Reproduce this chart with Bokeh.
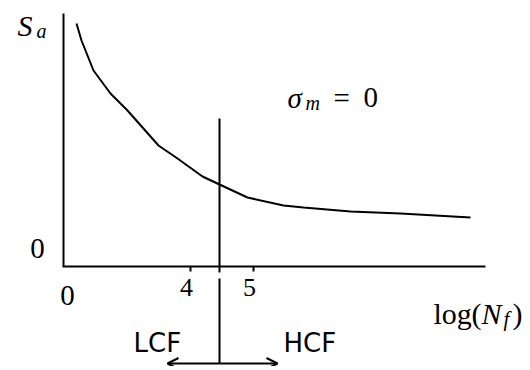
from bokeh.plotting import figure
from bokeh.models import Range1d, Label, Arrow, OpenHead, ColumnDataSource
from bokeh.core.properties import value
from bokeh.embed import file_html
from bokeh.resources import INLINE

# Schematic S-N curve (drawing units: x ~ log(N_f), y ~ S_a)
curve_x = [13, 18, 30, 47, 64, 95, 114, 139, 156, 184, 220, 240, 287, 337, 407]
curve_y = [243, 226, 196, 173, 156, 121, 108, 90, 82, 69, 61, 59, 55, 53, 49]
tick_pos = [127, 190]
tick_labels = ["4", "5"]
transition_x = 156  # LCF / HCF boundary
x_axis_end = 422
y_axis_end = 253

SERIF = "Liberation Serif"
SANS = "DejaVu Sans"

p = figure(width=530, height=366, x_range=Range1d(-63, 467), y_range=Range1d(-100, 266),
           output_backend="svg", toolbar_location=None, min_border=0,
           x_axis_type=None, y_axis_type=None, outline_line_color=None,
           background_fill_color="white", border_fill_color="white")
p.grid.visible = False

# axes
p.line([0, 0, x_axis_end], [y_axis_end, 0, 0], line_width=2, color="black", line_join="miter")
p.segment(x0=tick_pos, y0=[0] * len(tick_pos), x1=tick_pos, y1=[-5] * len(tick_pos),
          line_width=2, color="black")

# curve
p.line(curve_x, curve_y, line_width=2, color="black")

# transition line
p.segment(x0=[transition_x, transition_x], y0=[148, -12], x1=[transition_x, transition_x], y1=[-6, -97],
          line_width=2, color="black")

# arrows
for xe in (104, 214):
    p.add_layout(Arrow(x_start=transition_x, y_start=-97, x_end=xe, y_end=-97,
                       line_width=2, line_color="black",
                       end=OpenHead(size=11, line_width=2, line_color="black")))

# tick labels
src = ColumnDataSource(dict(x=tick_pos, y=[-21] * len(tick_pos), t=tick_labels))
p.text(x="x", y="y", text="t", source=src, x_offset=-4, text_align="center",
       text_baseline="alphabetic", text_font=value(SERIF), text_font_size="26px", text_color="black")

def lab(x, y, t, size, font=SERIF, style="normal", align="left"):
    p.add_layout(Label(x=x, y=y, text=t, text_font=font, text_font_size=f"{size}px",
                       text_font_style=style, text_align=align, text_baseline="alphabetic",
                       text_color="black"))

lab(-46, 241, "S", 30, style="italic")
lab(-27, 236, "a", 20, style="italic")
lab(-26, 18, "0", 29, align="center")
lab(4, -29, "0", 29, align="center")

lab(224, 169, "σ", 29, style="italic")
lab(242, 164, "m", 20, style="italic")
lab(270, 169, "=", 29)
lab(300, 169, "0", 29)

lab(370, -47, "log", 30)
lab(408, -47, "(", 30)
lab(418, -47, "N", 30, style="italic")
lab(440, -52, "f", 21, style="italic")
lab(449, -47, ")", 30)

lab(70, -76, "LCF", 26, font=SANS)
lab(220, -76, "HCF", 26, font=SANS)

open("out.html", "w").write(file_html(p, INLINE))
